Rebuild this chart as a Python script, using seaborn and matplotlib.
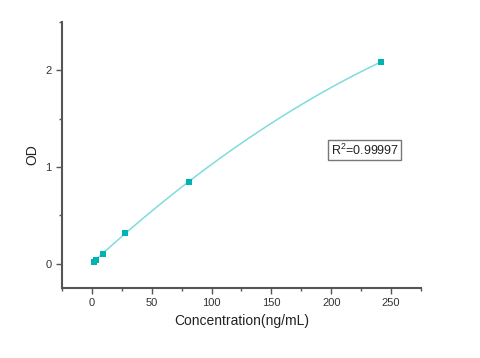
import numpy as np
import pandas as pd
import matplotlib
matplotlib.use('Agg')
import matplotlib.pyplot as plt
from matplotlib.ticker import MultipleLocator
import seaborn as sns

# standard curve points
conc = [1.4, 3.3, 9.3, 27.5, 81, 242]
od = [0.02, 0.04, 0.10, 0.32, 0.845, 2.09]
r2_text = 'R$^2$=0.99997'

df = pd.DataFrame({'conc': conc, 'od': od})

sns.set_style('ticks')
plt.rcParams['font.family'] = ['Liberation Sans', 'DejaVu Sans']
plt.rcParams['mathtext.fontset'] = 'custom'
plt.rcParams['mathtext.rm'] = 'Liberation Sans'

fig = plt.figure(figsize=(4.8, 3.58), dpi=100)
ax = fig.add_axes([0.129, 0.196, 0.748, 0.7425])

sns.regplot(data=df, x='conc', y='od', order=2, ci=None, ax=ax, marker='s',
            scatter_kws={'s': 24, 'color': '#00b3b3', 'zorder': 3,
                         'linewidths': 0, 'alpha': 1},
            line_kws={'color': '#7fdcdc', 'lw': 1.1, 'zorder': 2})

ax.set_xlim(-25, 275)
ax.set_ylim(-0.25, 2.5)
ax.xaxis.set_major_locator(MultipleLocator(50))
ax.xaxis.set_minor_locator(MultipleLocator(25))
ax.yaxis.set_major_locator(MultipleLocator(1))
ax.yaxis.set_minor_locator(MultipleLocator(0.5))

sns.despine(ax=ax)
for s in ['left', 'bottom']:
    ax.spines[s].set_color('#555555')
    ax.spines[s].set_linewidth(1.5)
ax.tick_params(which='major', length=4, width=1, color='#555555',
               labelsize=8, labelcolor='#333333')
ax.tick_params(which='minor', length=2.5, width=1, color='#555555')

ax.set_xlabel('Concentration(ng/mL)', fontsize=10, color='#222222')
ax.set_ylabel('OD', fontsize=10, color='#222222')

ax.text(228, 1.175, r2_text, fontsize=9, color='#222222', ha='center', va='center',
        bbox=dict(boxstyle='square,pad=0.2', fc='white', ec='#777777', lw=1))

fig.savefig('out.png', dpi=100)
